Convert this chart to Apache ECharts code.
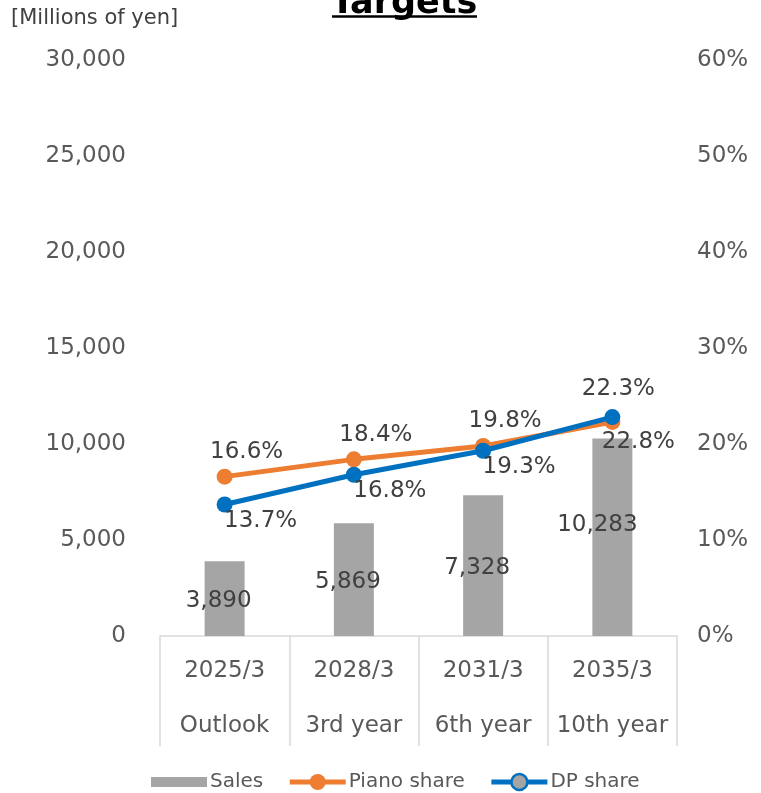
<!DOCTYPE html>
<html>
<head>
<meta charset="utf-8">
<script src="https://cdn.jsdelivr.net/npm/echarts@6/dist/echarts.min.js"></script>
<style>
  html, body { margin: 0; padding: 0; background: #fff; }
  #chart { width: 761px; height: 793px; }
</style>
</head>
<body>
<div id="chart"></div>
<script>
// Fiscal periods and the plan stage each belongs to
const periods = ['2025/3', '2028/3', '2031/3', '2035/3'];
const stages = ['Outlook', '3rd year', '6th year', '10th year'];

// Sales, millions of yen
const sales = [3890, 5869, 7328, 10283];
// Market shares, percent
const pianoShare = [16.6, 18.4, 19.8, 22.3];
const dpShare = [13.7, 16.8, 19.3, 22.8];

const FONT = '"DejaVu Sans", Verdana, sans-serif';
const AXIS_TEXT = '#595959';
const LABEL_TEXT = '#404040';
const GRID_LINE = '#D9D9D9';
const FS = 23;

const chart = echarts.init(document.getElementById('chart'), null, { renderer: 'canvas' });

const categories = periods.map((p, i) => p + '\n' + stages[i]);
const last = sales.length - 1;

const option = {
  backgroundColor: '#fff',
  animation: false,
  textStyle: { fontFamily: FONT },
  graphic: [
    {
      type: 'text',
      x: 404,
      y: -14,
      style: {
        text: 'Targets',
        font: 'bold 35px ' + FONT,
        fill: '#000',
        textAlign: 'center',
        textVerticalAlign: 'top'
      }
    },
    {
      type: 'line',
      shape: { x1: 332, y1: 16.5, x2: 477, y2: 16.5 },
      style: { stroke: '#000', lineWidth: 2.5 }
    },
    {
      type: 'text',
      x: 11,
      y: 8,
      style: {
        text: '[Millions of yen]',
        font: '21px ' + FONT,
        fill: '#404040'
      }
    }
  ],
  grid: { left: 160, right: 84, top: 60, bottom: 157 },
  legend: {
    top: 767,
    left: 146,
    itemWidth: 56,
    itemHeight: 20,
    itemGap: 24,
    textStyle: { fontFamily: FONT, fontSize: 20, color: AXIS_TEXT, padding: [0, 0, 0, -2] },
    data: [
      { name: 'Sales', icon: 'path://M0,0H56V10H0Z' },
      { name: 'Piano share', lineStyle: { width: 5 } },
      {
        name: 'DP share',
        lineStyle: { width: 5 },
        itemStyle: { color: '#A5A5A5', borderColor: '#0070C0', borderWidth: 2.5 }
      }
    ]
  },
  xAxis: {
    type: 'category',
    data: categories,
    boundaryGap: true,
    axisLine: { show: true, lineStyle: { color: GRID_LINE, width: 1.5 } },
    axisTick: { show: true, interval: 0, length: 110, lineStyle: { color: GRID_LINE, width: 1.5 } },
    axisLabel: {
      interval: 0,
      margin: 8,
      fontFamily: FONT,
      fontSize: FS,
      color: AXIS_TEXT,
      lineHeight: 55
    }
  },
  yAxis: [
    {
      type: 'value',
      min: 0,
      max: 30000,
      interval: 5000,
      splitLine: { show: false },
      axisLine: { show: false },
      axisTick: { show: false },
      axisLabel: {
        margin: 34,
        fontFamily: FONT,
        fontSize: FS,
        color: AXIS_TEXT,
        padding: [0, 0, 5, 0],
        formatter: v => v.toLocaleString('en-US')
      }
    },
    {
      type: 'value',
      min: 0,
      max: 60,
      interval: 10,
      splitLine: { show: false },
      axisLine: { show: false },
      axisTick: { show: false },
      axisLabel: {
        margin: 20,
        fontFamily: FONT,
        fontSize: FS,
        color: AXIS_TEXT,
        padding: [0, 0, 5, 0],
        formatter: '{value}%'
      }
    }
  ],
  series: [
    {
      name: 'Sales',
      type: 'bar',
      yAxisIndex: 0,
      barWidth: 40,
      data: sales.map((v, i) => i === last
        ? { value: v, label: { offset: [-15, -12] } }
        : v),
      itemStyle: { color: '#A5A5A5' },
      label: {
        show: true,
        position: 'inside',
        offset: [-6, 2],
        fontFamily: FONT,
        fontSize: FS,
        color: LABEL_TEXT,
        formatter: p => p.value.toLocaleString('en-US')
      },
      z: 1
    },
    {
      name: 'Piano share',
      type: 'line',
      yAxisIndex: 1,
      symbol: 'circle',
      symbolSize: 16,
      lineStyle: { width: 5, color: '#ED7D31' },
      itemStyle: { color: '#ED7D31' },
      data: pianoShare.map((v, i) => i === last
        ? { value: v, label: { offset: [6, -8] } }
        : v),
      label: {
        show: true,
        position: 'top',
        offset: [22, 0],
        fontFamily: FONT,
        fontSize: FS,
        color: LABEL_TEXT,
        formatter: p => p.value.toFixed(1) + '%'
      },
      z: 3
    },
    {
      name: 'DP share',
      type: 'line',
      yAxisIndex: 1,
      symbol: 'circle',
      symbolSize: 16,
      lineStyle: { width: 5, color: '#0070C0' },
      itemStyle: { color: '#0070C0' },
      data: dpShare.map((v, i) => i === last
        ? { value: v, label: { offset: [26, 0] } }
        : v),
      label: {
        show: true,
        position: 'bottom',
        offset: [36, -8],
        fontFamily: FONT,
        fontSize: FS,
        color: LABEL_TEXT,
        formatter: p => p.value.toFixed(1) + '%'
      },
      z: 4
    }
  ]
};

chart.setOption(option);
</script>
</body>
</html>
